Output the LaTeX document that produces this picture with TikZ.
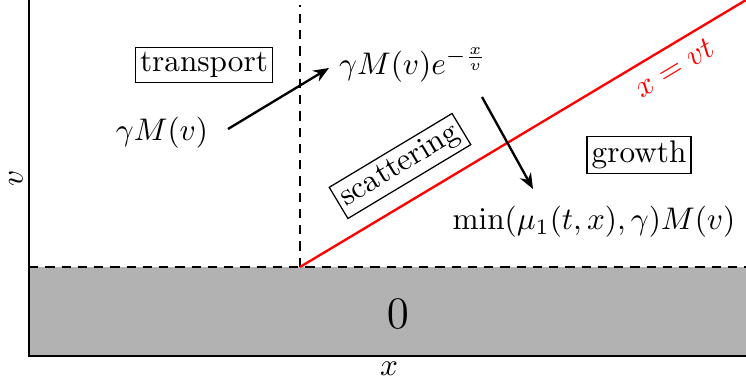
\documentclass[tikz,border=0pt]{standalone}
\usetikzlibrary{arrows.meta}
\begin{document}
\begin{tikzpicture}[x=0.32pt,y=-0.32pt,
  axis/.style={line width=0.75pt},
  dsh/.style={dash pattern=on 3pt off 2.2pt,line width=0.75pt},
  boxed/.style={draw,inner sep=1.5pt,line width=0.4pt},
  arr/.style={-{Stealth[length=5pt,width=4pt]},line width=0.75pt},
  lbl/.style={inner sep=1pt}]
\useasboundingbox (0,0) rectangle (746,385);
\fill[black!30] (29,267) rectangle (746,356);
\draw[axis] (29,0) -- (29,356) -- (746,356);
\draw[dsh] (29,267) -- (746,267);
\coordinate (top) at (300,5);
\coordinate (o) at (300,267);
\coordinate (e) at (746,0);
\draw[dsh] (o) -- (top);
\draw[red,line width=0.75pt] (o) -- (e);
\node[red,rotate=31,lbl] (xvt) at (674,68) {$x=vt$};
\node[boxed] (transport) at (204,65) {transport};
\node[lbl] (g1) at (162,133) {$\gamma M(v)$};
\node[lbl] (g2) at (413,65) {$\gamma M(v)e^{-\frac{x}{v}}$};
\node[boxed,rotate=31] (scat) at (400,166) {scattering};
\node[boxed] (growth) at (639,155) {growth};
\node[lbl] (mn) at (594,222) {$\min(\mu_1(t,x),\gamma)M(v)$};
\node[lbl] (zero) at (398,314) {\Large $0$};
\node[lbl] (xl) at (389,369) {$x$};
\node[lbl,rotate=90] (vl) at (16,178) {$v$};
\coordinate (a1) at (228,129);
\coordinate (a2) at (329,68);
\draw[arr] (a1) -- (a2);
\coordinate (b1) at (482,97);
\coordinate (b2) at (533,189);
\draw[arr] (b1) -- (b2);
\end{tikzpicture}
\end{document}
